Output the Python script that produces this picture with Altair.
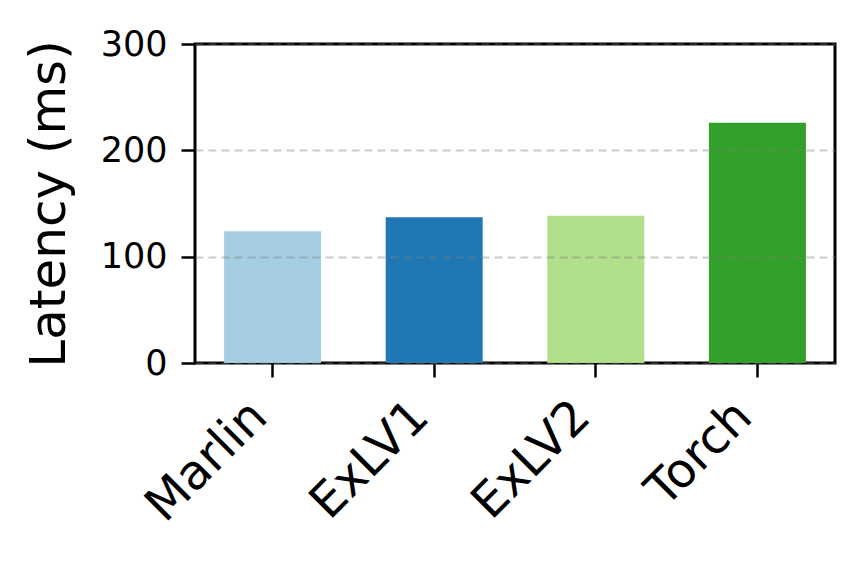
import altair as alt
import pandas as pd

methods = ["Marlin", "ExLV1", "ExLV2", "Torch"]
latency = [124, 137, 138.5, 226]
colors = ["#a6cee3", "#1f78b4", "#b2df8a", "#33a02c"]

df = pd.DataFrame({"method": methods, "latency": latency})

chart = alt.Chart(df).mark_bar().encode(
    x=alt.X("method:N", sort=methods,
            scale=alt.Scale(paddingInner=0.4, paddingOuter=0.18),
            axis=alt.Axis(title=None, labelAngle=-45, labelAlign="right",
                          labelBaseline="middle", labelFontSize=48, labelPadding=32,
                          labelOffset=-13, labelLimit=400,
                          tickSize=14, tickWidth=2.5, tickColor="black",
                          domain=False, labelColor="black", labelFont="DejaVu Sans")),
    y=alt.Y("latency:Q", scale=alt.Scale(domain=[0, 300], nice=False),
            axis=alt.Axis(title="Latency (ms)", values=[0, 100, 200, 300],
                          titleFontSize=50, titleFontWeight="normal", titleFont="DejaVu Sans",
                          titleColor="black", titlePadding=26,
                          labelFontSize=35, labelPadding=14, labelColor="black",
                          labelFont="DejaVu Sans",
                          tickSize=14, tickWidth=2.5, tickColor="black", domain=False,
                          grid=True, gridDash=[8, 5], gridColor="#808080",
                          gridOpacity=0.4, gridWidth=2, zindex=1)),
    color=alt.Color("method:N", sort=methods,
                    scale=alt.Scale(domain=methods, range=colors), legend=None),
).properties(
    width=640, height=319,
    padding={"left": 187, "top": 36, "right": 21, "bottom": 194},
    autosize=alt.AutoSizeParams(type="none"),
).configure_view(
    stroke="black", strokeWidth=3
)

chart.save("out.html", embed_options={"renderer": "svg", "actions": False})
